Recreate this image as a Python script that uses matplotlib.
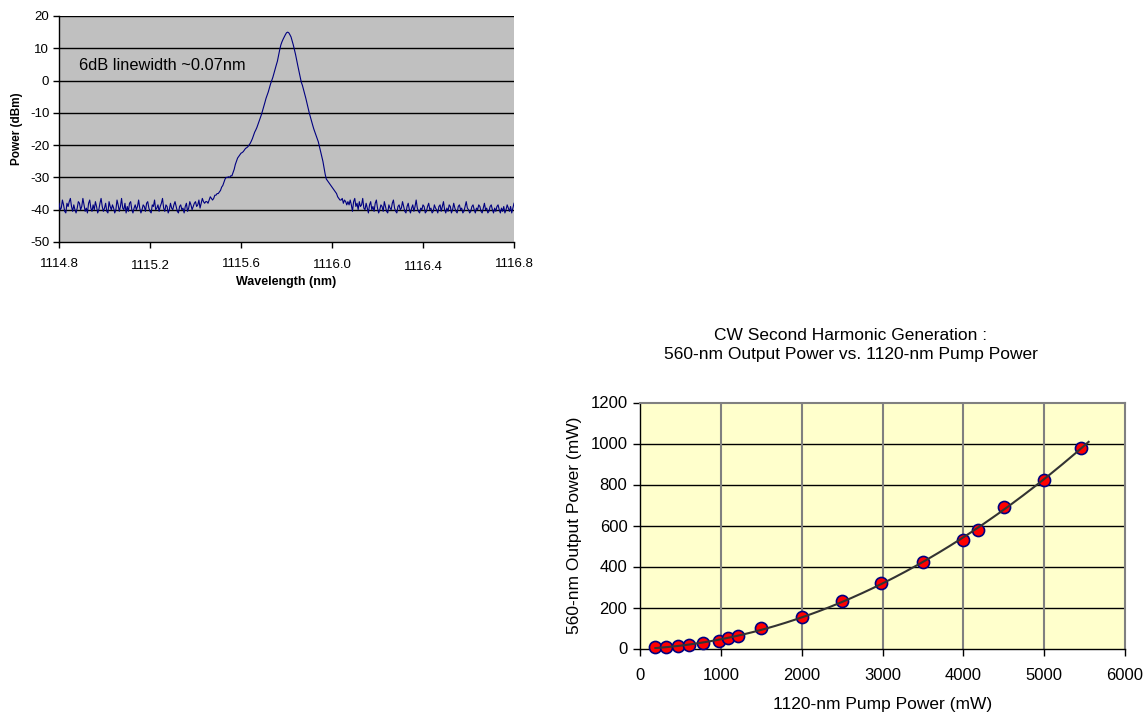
import numpy as np
import matplotlib
matplotlib.use("Agg")
import matplotlib.pyplot as plt

plt.rcParams['font.family'] = ['Liberation Sans', 'DejaVu Sans']
plt.rcParams['axes.unicode_minus'] = False

# --- OSA trace of the 1120 nm laser line, 5 pm sampling ---
wl_start, wl_step = 1114.800, 0.005
power_dbm = [
    # 1114.800 - 1115.445 noise floor
    -38, -40, -39.5, -37, -38.5, -40.5, -41, -38, -39, -37.5,
    -36.5, -39, -40.5, -38.5, -40, -41, -39.5, -37.5, -38, -40,
    -39, -36.5, -38.5, -40.5, -39.5, -41, -38, -37, -39.5, -40.5,
    -38.5, -40, -37.5, -39, -41, -40, -38, -36.5, -39, -40.5,
    -39.5, -38, -40.5, -41, -37.5, -39, -40, -38.5, -39.5, -41,
    -40, -37, -38.5, -40.5, -39, -36.5, -39.5, -40, -38, -41,
    -39, -40.5, -38, -37.5, -40, -41, -39.5, -38.5, -40, -39,
    -37, -39.5, -41, -40, -38.5, -39, -40.5, -38, -37.5, -39.5,
    -40.5, -41, -38.5, -39, -37, -40, -39.5, -38.5, -40.5, -39,
    -38, -36.5, -39.5, -40.5, -38.5, -39, -41, -40, -38, -39.5,
    -40, -38.5, -37.5, -39, -40.5, -41, -39, -38.5, -40, -39.5,
    -41, -39, -38, -40.5, -39.5, -37.5, -38.5, -40, -39, -38,
    -37.5, -39, -38.5, -37, -39.5, -38, -36.5, -37.5, -38, -37.5,
    # 1115.450 - 1116.075 laser line
    -37.5, -38, -37, -36, -36.5, -37, -36.5, -35.5, -35.5, -35,
    -35, -34.5, -34, -33, -32.5, -31.5, -30.5, -30, -30, -29.8,
    -30, -29.5, -29.5, -28.5, -27.5, -26, -25, -24, -23.5, -23,
    -22.5, -22.3, -22, -21.5, -21, -20.8, -20.5, -20, -19.5, -18.8,
    -18, -17, -16, -15.3, -14.5, -13.5, -12.5, -11.5, -10.5, -9.3,
    -8, -6.8, -5.5, -4.5, -3.5, -2.2, -1, 0, 1, 2.3,
    3.5, 4.8, 6, 7.8, 9.5, 11, 12, 12.8, 13.5, 14.2,
    14.8, 15, 14.8, 14.2, 13.5, 12.3, 11, 9.5, 8, 6.2,
    4.5, 2.8, 1, -0.5, -1.5, -2.8, -4, -5.5, -7, -8.5,
    -10, -11.3, -12.5, -13.8, -15, -16, -17, -18, -19, -20.5,
    -22, -23.5, -25, -27, -29, -30.5, -31, -31.5, -32, -32.5,
    -33, -33.5, -34, -34.5, -35, -36, -36.5, -37, -37, -36.5,
    -38, -37, -37.5, -38.5, -37.5, -38.5,
    # 1116.080 - 1116.800 noise floor
    -37, -38.5, -40.5, -37.5, -36.5, -39, -38, -40, -37.5, -39,
    -38.5, -36.5, -39.5, -40, -38, -39.5, -41, -38.5, -37.5, -40,
    -39, -40.5, -38, -37, -39.5, -41, -40, -38.5, -39, -40.5,
    -37.5, -39, -40.5, -41, -38.5, -39.5, -40, -38, -37, -39.5,
    -40.5, -41, -39, -38.5, -40, -39.5, -37.5, -39, -40.5, -41,
    -39, -38, -40, -41, -39.5, -38.5, -40.5, -39, -37, -39.5,
    -40.5, -41, -39.5, -40, -38.5, -39, -41, -40.5, -39, -38,
    -40, -39.5, -41, -40.5, -38.5, -39.5, -40, -41, -39, -38.5,
    -40.5, -39, -37.5, -40, -41, -39.5, -40.5, -38.5, -39, -41,
    -40, -38, -39.5, -40.5, -41, -39, -38.5, -40, -39.5, -41,
    -40.5, -39, -37.5, -39.5, -40, -41, -40.5, -39, -38.5, -40,
    -41, -39.5, -40, -38.5, -39, -40.5, -41, -39.5, -38, -40,
    -39.5, -41, -40.5, -39, -38.5, -40, -41, -39.5, -40.5, -39,
    -38.5, -40, -41, -39.5, -40.5, -39, -41, -40, -38.5, -39.5,
    -40.5, -39, -41, -39.5, -38,
]
wavelength = wl_start + wl_step * np.arange(len(power_dbm))
wl_ticks = [1114.8, 1115.2, 1115.6, 1116.0, 1116.4, 1116.8]
dbm_ticks = [-50, -40, -30, -20, -10, 0, 10, 20]

# --- SHG output vs pump ---
pump_mw = [190, 320, 470, 610, 780, 980, 1090, 1210, 1500, 2000,
           2500, 2980, 3500, 4000, 4180, 4500, 5000, 5450]
shg_mw = [5, 8, 11, 16, 26, 38, 50, 63, 100, 155,
          230, 320, 420, 530, 580, 690, 820, 980]
pump_ticks = [0, 1000, 2000, 3000, 4000, 5000, 6000]
shg_ticks = [0, 200, 400, 600, 800, 1000, 1200]

W, H = 1147, 713
fig = plt.figure(figsize=(W / 100, H / 100), dpi=100)
fig.patch.set_facecolor('white')

# spectrum panel
ax1 = fig.add_axes([59 / W, 1 - 242 / H, (514 - 59) / W, (242 - 16) / H])
ax1.set_facecolor('#C0C0C0')
for y in dbm_ticks[1:]:
    ax1.axhline(y, color='black', lw=1, zorder=1)
ax1.plot(wavelength, power_dbm, color='#000080', lw=0.8, zorder=3)
ax1.set_xlim(1114.8, 1116.8)
ax1.set_ylim(-50, 20)
ax1.set_xticks(wl_ticks)
ax1.set_xticklabels([f'{t:.1f}' for t in wl_ticks])
ax1.set_yticks(dbm_ticks)
for s in ('top', 'right'):
    ax1.spines[s].set_visible(False)
for s in ('left', 'bottom'):
    ax1.spines[s].set_color('black')
    ax1.spines[s].set_linewidth(1)
ax1.tick_params(direction='out', length=4, width=1, labelsize=9.5, pad=3)
ax1.tick_params(axis='x', pad=7.5)
# the wavelength labels sit at slightly uneven heights
for lbl, dy in zip(ax1.get_xticklabels(), [0, 2.5, 0, 1.5, 3.5, 0]):
    lbl.set_y(-dy / 226)
ax1.set_xlabel('Wavelength (nm)', fontsize=9, fontweight='bold', labelpad=1.5)
ax1.set_ylabel('Power (dBm)', fontsize=8.5, fontweight='bold', labelpad=5)
ax1.text(0.045, 0.78, '6dB linewidth ~0.07nm', transform=ax1.transAxes,
         fontsize=11.8, va='center', ha='left')

# SHG panel
ax2 = fig.add_axes([640 / W, 1 - 648.5 / H, (1125 - 640) / W, (648.5 - 402.5) / H])
ax2.set_facecolor('#FFFFCC')
for y in shg_ticks[1:-1]:
    ax2.axhline(y, color='black', lw=1, zorder=1)
for x in pump_ticks[1:-1]:
    ax2.axvline(x, color='#808080', lw=1.5, zorder=1)

coef = np.polyfit(pump_mw, shg_mw, 2)
fit_x = np.linspace(pump_mw[0], 5550, 200)
ax2.plot(pump_mw, shg_mw, 'o', ms=8.7, mfc='red', mec='#000080', mew=1.2,
         zorder=3, clip_on=False)
ax2.plot(fit_x, np.polyval(coef, fit_x), color='#333333', lw=1.5, zorder=4)

ax2.set_xlim(0, 6000)
ax2.set_ylim(0, 1200)
ax2.set_xticks(pump_ticks)
ax2.set_yticks(shg_ticks)
for s in ('top', 'right'):
    ax2.spines[s].set_color('#808080')
    ax2.spines[s].set_linewidth(1.5)
for s in ('left', 'bottom'):
    ax2.spines[s].set_color('black')
    ax2.spines[s].set_linewidth(1)
ax2.tick_params(direction='out', length=5, width=1, labelsize=12, pad=4)
ax2.tick_params(axis='x', pad=9)
ax2.set_xlabel('1120-nm Pump Power (mW)', fontsize=12.5, labelpad=10)
ax2.set_ylabel('560-nm Output Power (mW)', fontsize=12.5, labelpad=6)

fig.text(851 / W, 1 - 345 / H,
         'CW Second Harmonic Generation :\n560-nm Output Power vs. 1120-nm Pump Power',
         ha='center', va='center', fontsize=12.5, linespacing=1.25)

fig.savefig('out.png', dpi=100)
